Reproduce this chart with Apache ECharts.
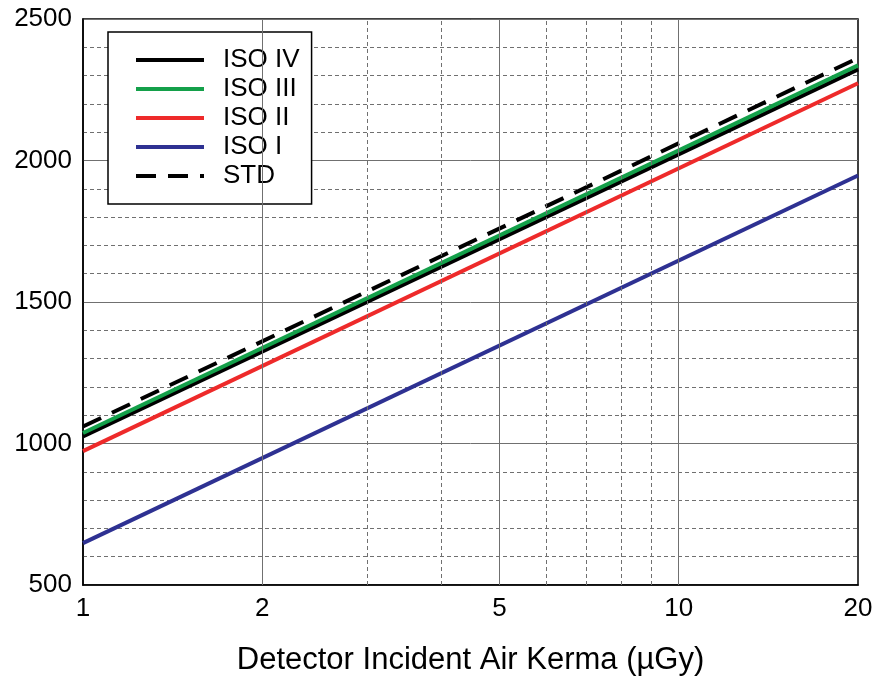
<!DOCTYPE html>
<html>
<head>
<meta charset="utf-8">
<script src="https://cdn.jsdelivr.net/npm/echarts@6/dist/echarts.min.js"></script>
<style>
html,body{margin:0;padding:0;background:#fff;}
#chart{width:878px;height:686px;}
</style>
</head>
<body>
<div id="chart"></div>
<script>
// Data (straight lines on log-x axis)
const kerma = [1, 20];
const isoIV = [1025, 2322];
const isoIII = [1037, 2336];
const isoII = [973, 2273];
const isoI = [648, 1947];
const std = [1060, 2362];

const xTickLabels = [1, 2, 5, 10, 20];
const xMajorGrid = [2, 5, 10];
const xMinorGrid = [3, 4, 6, 7, 8, 9];

const FONT = '"Liberation Sans", Arial, sans-serif';

function pairs(ys) { return kerma.map((x, i) => [x, ys[i]]); }

const chart = echarts.init(document.getElementById('chart'));

const gridLines = [];
xMajorGrid.forEach(v => gridLines.push({ xAxis: v, lineStyle: { color: '#707070', width: 1, type: 'solid' } }));
xMinorGrid.forEach(v => gridLines.push({ xAxis: v, lineStyle: { color: '#707070', width: 1, type: [4, 3] } }));

chart.setOption({
  animation: false,
  backgroundColor: '#fff',
  grid: { left: 83, right: 20, top: 19, bottom: 101, show: true, borderColor: '#000', borderWidth: 1.5, backgroundColor: 'transparent' },
  legend: {
    left: 108, top: 32,
    orient: 'vertical',
    backgroundColor: '#fff',
    borderColor: '#000', borderWidth: 1.5, borderRadius: 0,
    padding: [15, 12, 15, 26],
    itemWidth: 68, itemHeight: 20, itemGap: 3,
    itemStyle: { opacity: 0 },
    lineStyle: { width: 4 },
    textStyle: { fontFamily: FONT, fontSize: 26, lineHeight: 26, color: '#000', padding: [0, 0, 0, 14] },
    data: ['ISO IV', 'ISO III', 'ISO II', 'ISO I', 'STD']
  },
  xAxis: {
    type: 'log', logBase: 10, min: 1, max: 20,
    name: 'Detector Incident Air Kerma (µGy)',
    nameLocation: 'middle', nameGap: 60,
    nameTextStyle: { fontFamily: FONT, fontSize: 31, color: '#000' },
    axisLine: { show: true, lineStyle: { color: '#000', width: 1.5 } },
    axisTick: { show: true, inside: true, length: 4, customValues: [2, 3, 4, 5, 6, 7, 8, 9, 10], lineStyle: { color: '#000' } },
    axisLabel: { fontFamily: FONT, fontSize: 26, color: '#000', margin: 11, customValues: xTickLabels },
    splitLine: { show: false },
    minorTick: { show: false },
    minorSplitLine: { show: false }
  },
  yAxis: {
    type: 'value', min: 500, max: 2500, interval: 500,
    axisLine: { show: true, lineStyle: { color: '#000', width: 1.5 } },
    axisTick: { show: false },
    axisLabel: { fontFamily: FONT, fontSize: 26, color: '#000', margin: 11, formatter: v => String(v) },
    splitLine: { show: true, lineStyle: { color: '#707070', width: 1 } },
    minorTick: { show: false, splitNumber: 5 },
    minorSplitLine: { show: true, lineStyle: { color: '#707070', width: 1, type: [4, 3] } }
  },
  series: [
    {
      name: 'grid', type: 'line', data: [], silent: true,
      markLine: { silent: true, symbol: 'none', label: { show: false }, data: gridLines, animation: false }
    },
    { name: 'ISO I', type: 'line', data: pairs(isoI), symbol: 'none', lineStyle: { color: '#2e3192', width: 4 }, itemStyle: { color: '#2e3192' } },
    { name: 'ISO II', type: 'line', data: pairs(isoII), symbol: 'none', lineStyle: { color: '#ee2a2a', width: 4 }, itemStyle: { color: '#ee2a2a' } },
    { name: 'ISO IV', type: 'line', data: pairs(isoIV), symbol: 'none', lineStyle: { color: '#000000', width: 4 }, itemStyle: { color: '#000000' } },
    { name: 'ISO III', type: 'line', data: pairs(isoIII), symbol: 'none', lineStyle: { color: '#14a04a', width: 4 }, itemStyle: { color: '#14a04a' } },
    { name: 'STD', type: 'line', data: pairs(std), symbol: 'none', lineStyle: { color: '#000000', width: 4, type: [20, 12] }, itemStyle: { color: '#000000' } }
  ]
});
</script>
</body>
</html>
